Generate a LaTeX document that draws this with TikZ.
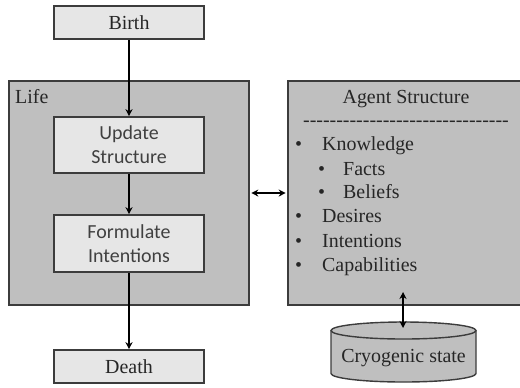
\documentclass[tikz,border=0pt]{standalone}
\usepackage{fontspec}
\setmainfont{Liberation Serif}
\newfontfamily\calibri{Carlito}
\usetikzlibrary{arrows.meta}
\definecolor{lightbox}{HTML}{E6E6E6}
\definecolor{darkbox}{HTML}{BFBFBF}
\definecolor{edge}{HTML}{3C3C3C}
\definecolor{serifink}{HTML}{262626}
\definecolor{sansink}{HTML}{404040}
\tikzset{
  >={Stealth[length=7bp,width=7bp]},
  big/.style={font=\fontsize{20}{24}\selectfont},
  stage/.style={big, draw=edge, line width=1.6bp, fill=lightbox, minimum width=150bp,
    inner sep=0pt, text=serifink},
  action/.style={stage, font=\calibri\fontsize{20}{24}\selectfont, text=sansink, align=center},
  region/.style={draw=edge, line width=1.6bp, fill=darkbox, inner sep=0pt},
  label/.style={big, text=serifink, inner sep=0pt, text height=14bp, text depth=4bp},
  flow/.style={line width=1.8bp, ->},
  twoway/.style={line width=1.8bp, <->},
}
\newcommand\hy{-{}}
\begin{document}
\begin{tikzpicture}[x=1bp,y=-1bp]
\useasboundingbox (0,0) rectangle (520,387);

% containers
\node[region, minimum width=240bp, minimum height=224bp] (life) at (129,193) {};
\node[region, minimum width=237bp, minimum height=224bp] (agent) at (406.5,193) {};
\node[label, anchor=west] (lifelbl) at (15,98) {Life};

% life cycle stages
\node[stage, minimum height=33bp] (birth) at (129,22.5) {Birth};
\node[action, minimum height=56bp] (update) at (129,145) {Update\\Structure};
\node[action, minimum height=57bp] (formulate) at (129,243.5) {Formulate\\Intentions};
\node[stage, minimum height=33bp] (death) at (129,366.5) {Death};

\draw[flow] (birth) -- (update);
\draw[flow] (update) -- (formulate);
\draw[flow] (formulate) -- (death);

% agent structure contents
\node[label] (title) at (406,98) {Agent Structure};
\node[label] (rule) at (406,121) {\hy\hy\hy\hy\hy\hy\hy\hy\hy\hy\hy\hy\hy\hy\hy\hy\hy\hy\hy\hy\hy\hy\hy\hy\hy\hy\hy\hy\hy\hy\hy};
\node[label, anchor=west] (b1) at (295,145) {\textbullet};
\node[label, anchor=west] (k) at (322,145) {Knowledge};
\node[label, anchor=west] (b2) at (318,170) {\textbullet};
\node[label, anchor=west] (f) at (343,170) {Facts};
\node[label, anchor=west] (b3) at (318,193) {\textbullet};
\node[label, anchor=west] (bl) at (343,193) {Beliefs};
\node[label, anchor=west] (b4) at (295,217) {\textbullet};
\node[label, anchor=west] (d) at (322,217) {Desires};
\node[label, anchor=west] (b5) at (295,242) {\textbullet};
\node[label, anchor=west] (i) at (322,242) {Intentions};
\node[label, anchor=west] (b6) at (295,266) {\textbullet};
\node[label, anchor=west] (c) at (322,266) {Capabilities};

\draw[twoway, shorten <=1.5bp, shorten >=1.5bp] (life.east) -- (agent.west);

% cryogenic storage drum
\fill[darkbox] (331,330.5) -- (331,373.5)
  arc[start angle=180, end angle=0, x radius=72.5, y radius=8.5] -- (476,330.5) -- cycle;
\draw[edge, line width=1.4bp] (331,330.5) -- (331,373.5)
  arc[start angle=180, end angle=0, x radius=72.5, y radius=8.5] -- (476,330.5);
\draw[edge, fill=darkbox, line width=1.4bp] (403.5,330.5) ellipse[x radius=72.5, y radius=8.5];
\node[label] (cryo) at (403.5,357) {Cryogenic state};

\coordinate (port) at (403,292);
\coordinate (lid) at (403,328);
\draw[twoway] (port) -- (lid);
\end{tikzpicture}
\end{document}
